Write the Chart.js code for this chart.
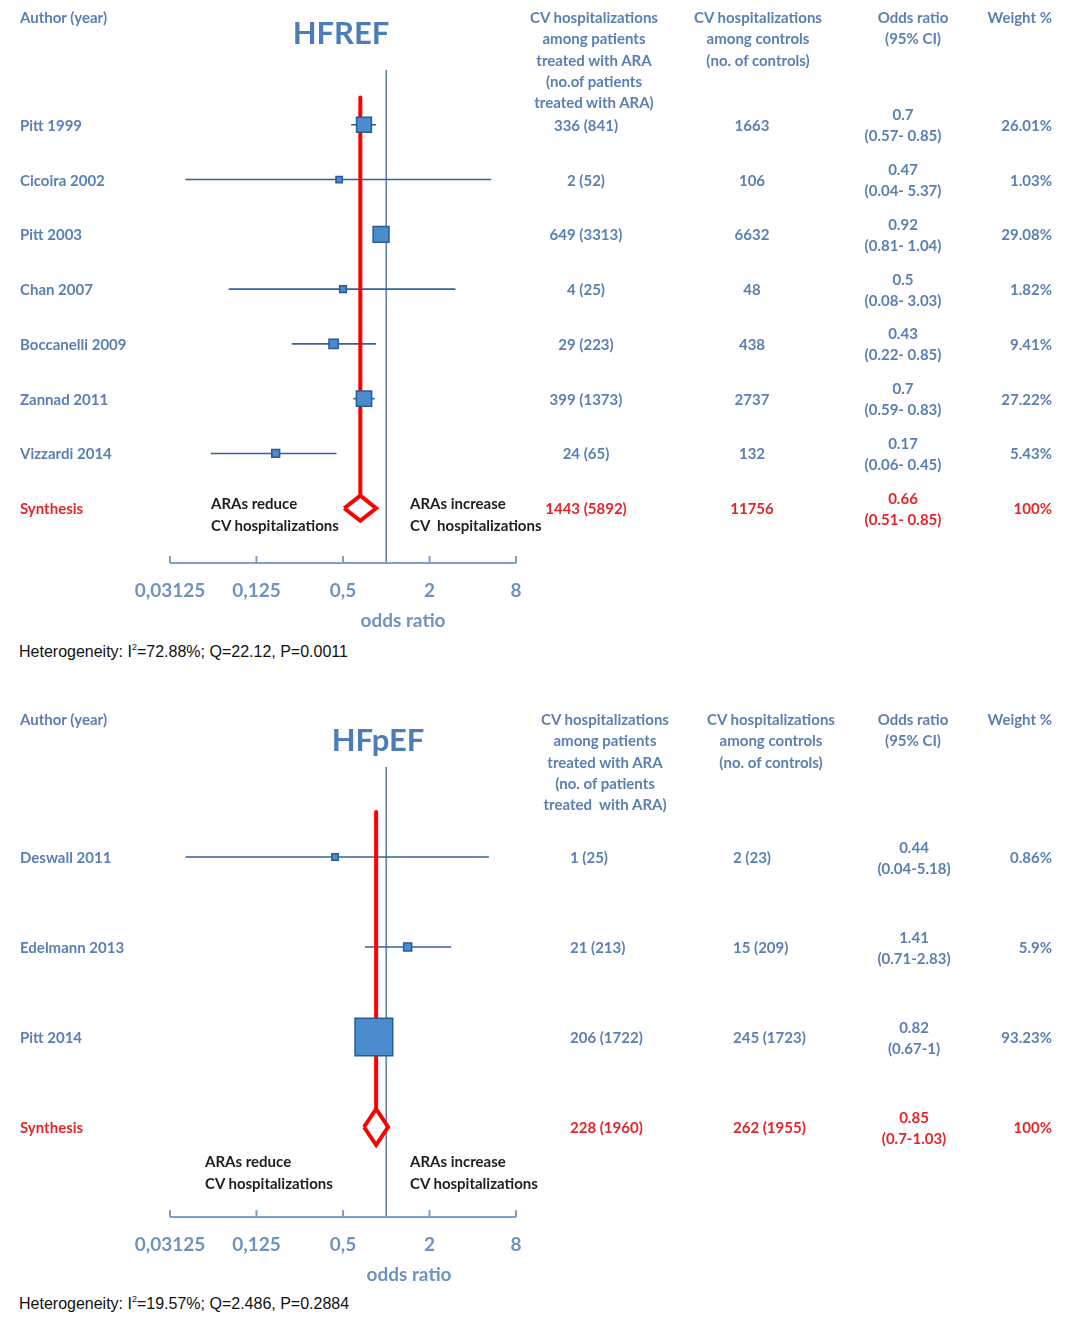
<!DOCTYPE html>
<html lang="en">
<head>
  <meta charset="UTF-8">
  <title>ARA forest plots</title>
  <script src="https://cdn.jsdelivr.net/npm/chart.js"></script>
  <style>
    body {
      margin: 0;
      background: #fff;
      font-family: Lato, "Open Sans", sans-serif;
    }
    #page {
      position: relative;
      width: 1067px;
      height: 1322px;
      overflow: hidden;
    }
    canvas {
      position: absolute;
      left: 0;
    }
    .t {
      position: absolute;
      white-space: pre;
      line-height: 1;
      font-size: 15px;
      font-weight: bold;
      color: #5a80b3;
      transform: translate(0, -50%);
    }
    .t.c { transform: translate(-50%, -50%); }
    .t.r { transform: translate(-100%, -50%); }
    .t.blk { color: #1e1e1e; }
    .t.red { color: #e3262a; }
    .t.big { font-size: 31px; color: #4c7db8; }
    .t.ax { font-size: 19px; color: #6f93c1; }
    .t.foot {
      font-family: "Liberation Sans", Arial, sans-serif;
      font-size: 16px;
      font-weight: normal;
      color: #111;
    }
    .t.foot sup { font-size: 9px; vertical-align: 7px; line-height: 0; }
  </style>
</head>
<body>
<div id="page">
  <canvas id="refChart" width="1067" height="640" style="top:0px"></canvas>
  <canvas id="pefChart" width="1067" height="594" style="top:700px"></canvas>
</div>

<script>
  // log axis
  const tickValues = [0.03125, 0.125, 0.5, 2, 8];
  const tickLabels = ['0,03125', '0,125', '0,5', '2', '8'];

  // HFrEF studies
  const refNames = ['Pitt 1999', 'Cicoira 2002', 'Pitt 2003', 'Chan 2007', 'Boccanelli 2009', 'Zannad 2011', 'Vizzardi 2014'];
  const refOR = [0.7, 0.47, 0.92, 0.5, 0.43, 0.7, 0.17];
  const refLow = [0.57, 0.04, 0.81, 0.08, 0.22, 0.59, 0.06];
  const refHigh = [0.85, 5.37, 1.04, 3.03, 0.85, 0.83, 0.45];
  const refWeight = [26.01, 1.03, 29.08, 1.82, 9.41, 27.22, 5.43];
  const refTreated = ['336 (841)', '2 (52)', '649 (3313)', '4 (25)', '29 (223)', '399 (1373)', '24 (65)'];
  const refControls = ['1663', '106', '6632', '48', '438', '2737', '132'];
  const refPooled = [0.66, 0.51, 0.85];
  const refPooledCounts = ['1443 (5892)', '11756'];
  const refHetero = 'Heterogeneity: I<sup>2</sup>=72.88%; Q=22.12, P=0.0011';

  // HFpEF studies
  const pefNames = ['Deswall 2011', 'Edelmann 2013', 'Pitt 2014'];
  const pefOR = [0.44, 1.41, 0.82];
  const pefLow = [0.04, 0.71, 0.67];
  const pefHigh = [5.18, 2.83, 1];
  const pefWeight = [0.86, 5.9, 93.23];
  const pefTreated = ['1 (25)', '21 (213)', '206 (1722)'];
  const pefControls = ['2 (23)', '15 (209)', '245 (1723)'];
  const pefPooled = [0.85, 0.7, 1.03];
  const pefPooledCounts = ['228 (1960)', '262 (1955)'];
  const pefHetero = 'Heterogeneity: I<sup>2</sup>=19.57%; Q=2.486, P=0.2884';

  const page = document.getElementById('page');

  function put(html, x, y, cls) {
    const d = document.createElement('div');
    d.className = 't ' + (cls || '');
    d.innerHTML = html;
    d.style.left = x + 'px';
    d.style.top = y + 'px';
    page.appendChild(d);
  }

  // axis line with upward ticks
  const oddsAxis = {
    id: 'oddsAxis',
    afterDraw(chart) {
      const ctx = chart.ctx;
      const xs = chart.scales.x;
      const y = chart.chartArea.bottom;
      ctx.save();
      ctx.strokeStyle = '#7f9fca';
      ctx.lineWidth = 2;
      ctx.beginPath();
      ctx.moveTo(xs.left, y);
      ctx.lineTo(xs.right, y);
      tickValues.forEach(v => {
        const px = xs.getPixelForValue(v);
        ctx.moveTo(px, y);
        ctx.lineTo(px, y - 7);
      });
      ctx.stroke();
      ctx.restore();
    }
  };

  function boxSide(w) {
    return 6 + 0.34 * w;
  }

  function forest(id, p) {
    const n = p.or.length;
    const [est, lo, hi] = p.pooled;
    const datasets = [];

    // no-effect line at OR = 1
    datasets.push({
      data: [{ x: 1, y: -1 }, { x: 1, y: n + 1 }],
      showLine: true, borderColor: '#5d80b0', borderWidth: 1.6, pointRadius: 0, order: 5
    });
    // confidence intervals
    p.or.forEach((v, i) => {
      datasets.push({
        data: [{ x: p.low[i], y: i }, { x: p.high[i], y: i }],
        showLine: true, borderColor: '#33629c', borderWidth: 1.6, pointRadius: 0, order: 4
      });
    });
    // pooled estimate line
    datasets.push({
      data: [{ x: est, y: -0.5 }, { x: est, y: n - p.dh }],
      showLine: true, borderColor: '#ff0000', borderWidth: 4, borderCapStyle: 'round',
      pointRadius: 0, order: 3
    });
    // study squares
    datasets.push({
      data: p.or.map((v, i) => ({ x: v, y: i })),
      pointStyle: 'rect',
      pointRadius: c => boxSide(p.weight[c.dataIndex]) / Math.SQRT2,
      backgroundColor: '#4a8ccc', borderColor: '#2b5a98', borderWidth: 1.5, order: 2
    });
    // pooled diamond
    datasets.push({
      data: [{ x: lo, y: n }, { x: est, y: n - p.dh }, { x: hi, y: n }, { x: est, y: n + p.dh }, { x: lo, y: n }],
      showLine: true, borderColor: '#ff0000', borderWidth: 4, borderJoinStyle: 'miter',
      pointRadius: 0, order: 1
    });

    return new Chart(document.getElementById(id), {
      type: 'scatter',
      data: { datasets: datasets },
      options: {
        responsive: false,
        animation: false,
        events: [],
        layout: { padding: { left: 170, right: 1067 - 516, top: p.padTop, bottom: 37 } },
        plugins: { legend: { display: false }, tooltip: { enabled: false } },
        scales: {
          x: {
            type: 'logarithmic',
            min: tickValues[0],
            max: tickValues[tickValues.length - 1],
            bounds: 'data',
            grid: { display: false, drawTicks: false },
            border: { display: false },
            afterBuildTicks: s => { s.ticks = tickValues.map(v => ({ value: v })); },
            afterFit: s => { s.height = 40; },
            ticks: {
              autoSkip: false, maxRotation: 0, padding: 16,
              color: '#6f93c1',
              font: { family: 'Lato', size: 19, weight: 'bold' },
              callback: (v, i) => tickLabels[i]
            }
          },
          y: { type: 'linear', reverse: true, min: -1, max: n + 1, display: false }
        }
      },
      plugins: [oddsAxis]
    });
  }

  function table(chart, p) {
    const ys = chart.scales.y;
    const n = p.or.length;
    const rowY = i => p.top + ys.getPixelForValue(i);
    const [c1, c2, c3, c4] = p.cols;

    put('Author (year)', 20, p.headY);
    put(p.title, p.titleX, p.titleY, 'c big');
    p.head1.forEach((s, k) => put(s, p.head1X, p.headY + k * 21.3, 'c'));
    p.head2.forEach((s, k) => put(s, p.head2X, p.headY + k * 21.3, 'c'));
    ['Odds ratio', '(95% CI)'].forEach((s, k) => put(s, 913, p.headY + k * 21.3, 'c'));
    put('Weight %', 1052, p.headY, 'r');

    p.names.forEach((s, i) => {
      const y = rowY(i);
      put(s, 20, y);
      put(p.treated[i], c1, y, p.colCls);
      put(p.controls[i], c2, y, p.colCls);
      put(String(p.or[i]), c3, y - 10.5, 'c');
      put('(' + p.low[i] + p.sep + p.high[i] + ')', c3, y + 10.5, 'c');
      put(p.weight[i] + '%', c4, y, 'r');
    });

    const y = rowY(n);
    put('Synthesis', 20, y, 'red');
    put(p.pooledCounts[0], c1, y, p.colCls + ' red');
    put(p.pooledCounts[1], c2, y, p.colCls + ' red');
    put(String(p.pooled[0]), c3, y - 10.5, 'c red');
    put('(' + p.pooled[1] + p.sep + p.pooled[2] + ')', c3, y + 10.5, 'c red');
    put('100%', c4, y, 'r red');

    put('ARAs reduce', p.noteL, p.noteY, 'blk');
    put('CV hospitalizations', p.noteL, p.noteY + 21.5, 'blk');
    put('ARAs increase', 410, p.noteY, 'blk');
    put(p.noteR2, 410, p.noteY + 21.5, 'blk');

    put('odds ratio', p.axTitleX, p.axTitleY, 'c ax');
    put(p.hetero, 19, p.footY, 'foot');
  }

  const ref = {
    or: refOR, low: refLow, high: refHigh, weight: refWeight, pooled: refPooled,
    names: refNames, treated: refTreated, controls: refControls, pooledCounts: refPooledCounts,
    hetero: refHetero, title: 'HFREF', sep: '- ',
    head1: ['CV hospitalizations', 'among patients', 'treated with ARA', '(no.of patients', 'treated with ARA)'],
    head2: ['CV hospitalizations', 'among controls', '(no. of controls)'],
    top: 0, padTop: 70, dh: 0.23, headY: 17, titleX: 341, titleY: 32,
    head1X: 594, head2X: 758, cols: [586, 752, 903, 1052], colCls: 'c',
    noteL: 211, noteY: 503, noteR2: 'CV  hospitalizations',
    axTitleX: 403, axTitleY: 619, footY: 652
  };

  const pef = {
    or: pefOR, low: pefLow, high: pefHigh, weight: pefWeight, pooled: pefPooled,
    names: pefNames, treated: pefTreated, controls: pefControls, pooledCounts: pefPooledCounts,
    hetero: pefHetero, title: 'HFpEF', sep: '-',
    head1: ['CV hospitalizations', 'among patients', 'treated with ARA', '(no. of patients', 'treated  with ARA)'],
    head2: ['CV hospitalizations', 'among controls', '(no. of controls)'],
    top: 700, padTop: 67, dh: 0.2, headY: 719, titleX: 378, titleY: 739,
    head1X: 605, head2X: 771, cols: [570, 733, 914, 1052], colCls: '',
    noteL: 205, noteY: 1161, noteR2: 'CV hospitalizations',
    axTitleX: 409, axTitleY: 1273, footY: 1304
  };

  table(forest('refChart', ref), ref);
  table(forest('pefChart', pef), pef);
</script>
</body>
</html>
